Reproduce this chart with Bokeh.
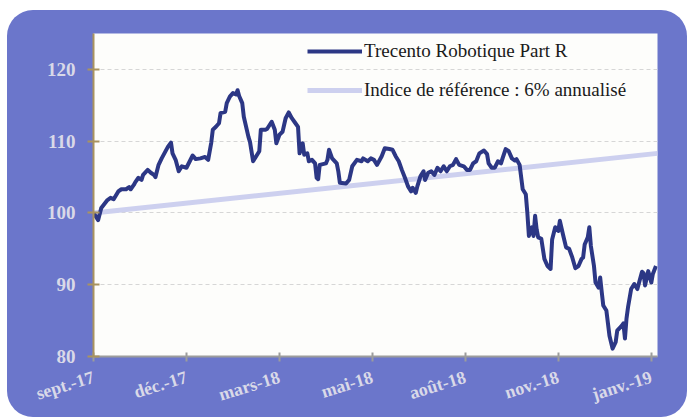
from bokeh.plotting import figure
from bokeh.models import Range1d, FixedTicker, Legend, LegendItem
from bokeh.embed import file_html
from bokeh.resources import INLINE

# trading-day index and fund values (base 100)
days = [0, 3, 5, 9, 11, 13, 16, 18, 21, 23,
        24, 26, 27, 29, 31, 32, 35, 37, 39, 40,
        42, 44, 46, 48, 50, 51, 53, 55, 57, 60,
        64, 66, 69, 72, 74, 76, 77, 79, 81, 82,
        85, 86, 88, 90, 92, 93, 94, 96, 97, 100,
        101, 103, 105, 107, 108, 111, 112, 115, 117, 118,
        120, 122, 124, 126, 128, 130, 132, 133, 135, 136,
        138, 139, 141, 143, 144, 145, 146, 150, 151, 152,
        154, 157, 158, 159, 163, 165, 167, 170, 173, 174,
        177, 179, 181, 183, 186, 188, 191, 193, 195, 197,
        199, 201, 203, 205, 206, 208, 209, 211, 213, 214,
        216, 218, 220, 222, 224, 226, 228, 230, 232, 234,
        236, 239, 241, 243, 245, 247, 249, 252, 254, 255,
        257, 259, 261, 263, 264, 266, 268, 270, 272, 273,
        275, 277, 279, 280, 281, 283, 284, 285, 286, 287,
        289, 291, 293, 295, 296, 298, 300, 301, 303, 305,
        307, 309, 311, 313, 315, 316, 317, 319, 320, 321,
        323, 324, 326, 327, 328, 329, 331, 333, 335, 337,
        338, 341, 342, 343, 344, 345, 347, 349, 351, 354,
        355, 356, 358, 360, 361, 363]

fund = [100.0, 99.0, 100.7, 101.8, 102.1, 101.9, 103.0, 103.3, 103.3, 103.6,
        103.3, 103.9, 104.3, 104.9, 104.6, 105.3, 106.0, 105.6, 105.3, 105.0,
        106.7, 107.6, 108.4, 109.2, 109.8, 108.3, 107.4, 105.8, 106.5, 106.3,
        108.0, 107.5, 107.6, 107.8, 107.4, 109.8, 111.6, 112.0, 112.5, 113.9,
        114.1, 115.3, 116.2, 116.7, 116.5, 117.1, 116.3, 115.3, 113.4, 110.6,
        109.9, 107.2, 107.9, 108.6, 111.6, 111.6, 111.7, 112.7, 111.6, 109.7,
        110.9, 111.3, 113.2, 114.0, 113.2, 112.6, 112.0, 108.3, 109.7, 108.1,
        108.3, 107.2, 107.4, 106.9, 104.9, 104.7, 106.7, 106.9, 107.4, 108.8,
        107.6, 106.9, 105.8, 104.2, 104.1, 104.6, 106.5, 107.4, 107.2, 107.6,
        107.2, 107.6, 107.4, 106.7, 107.9, 109.0, 108.9, 108.8, 107.9, 107.2,
        106.0, 104.9, 103.7, 103.0, 103.5, 102.8, 103.7, 105.1, 105.8, 104.6,
        105.6, 105.8, 105.3, 106.3, 105.8, 106.5, 105.8, 106.5, 106.7, 107.5,
        106.7, 106.5, 106.0, 106.0, 106.9, 107.2, 108.3, 108.7, 108.2, 106.9,
        106.3, 106.3, 107.2, 106.9, 107.6, 108.9, 108.6, 107.6, 107.3, 107.5,
        106.7, 103.3, 102.6, 100.0, 96.8, 98.0, 96.8, 99.6, 97.7, 96.6,
        96.4, 93.6, 92.6, 92.2, 96.3, 98.0, 97.5, 98.9, 97.0, 95.2,
        95.0, 93.8, 92.3, 92.6, 93.6, 93.8, 95.6, 96.6, 98.0, 95.4,
        92.6, 90.3, 89.6, 91.0, 89.0, 87.1, 86.4, 82.9, 81.1, 82.0,
        83.6, 84.3, 84.6, 82.5, 85.3, 86.9, 89.4, 90.1, 89.4, 91.8,
        91.6, 89.9, 91.9, 90.3, 91.5, 92.6]

bench_days = [0, 364]
bench = [100.0, 108.3]

tick_days = [0, 60, 120, 180, 240, 300, 360]
tick_labels = ["sept.-17", "déc.-17", "mars-18", "mai-18", "août-18", "nov.-18", "janv.-19"]
y_ticks = [80, 90, 100, 110, 120]

PANEL = "#6b76cb"
LABEL = "#d9d9e8"
SERIF = "Liberation Serif"

p = figure(width=680, height=407, output_backend="svg", toolbar_location=None,
           x_range=Range1d(0, 364), y_range=Range1d(80, 125),
           min_border_left=86, min_border_right=30, min_border_top=23, min_border_bottom=59)
p.styles = {"background-color": PANEL, "border-radius": "26px",
            "margin-left": "7px", "margin-top": "10px"}
p.border_fill_alpha = 0
p.background_fill_color = "#fdfdfb"
p.outline_line_color = None

p.xgrid.visible = False
p.ygrid.ticker = FixedTicker(ticks=[90, 100, 110, 120])
p.ygrid.grid_line_color = "#d6d6d6"
p.ygrid.grid_line_dash = "4 3"
p.ygrid.grid_line_width = 1

r_bench = p.line(bench_days, bench, line_color="#cdd0ef", line_width=5)
r_fund = p.line(days, fund, line_color="#2c3785", line_width=4, line_join="round")

# y axis
ya = p.yaxis[0]
ya.ticker = FixedTicker(ticks=y_ticks)
ya.axis_line_color = "#a9935f"
ya.axis_line_width = 2
ya.major_tick_line_color = "#a9935f"
ya.major_tick_line_width = 2
ya.major_tick_in = 6
ya.major_tick_out = 6
ya.minor_tick_line_color = None
ya.major_label_standoff = 12
ya.major_label_text_font = SERIF
ya.major_label_text_font_style = "bold"
ya.major_label_text_font_size = "19px"
ya.major_label_text_color = LABEL

# x axis
xa = p.xaxis[0]
xa.ticker = FixedTicker(ticks=tick_days)
xa.major_label_overrides = {d: l for d, l in zip(tick_days, tick_labels)}
xa.axis_line_color = "#9c9c9c"
xa.axis_line_width = 2
xa.major_tick_line_color = "#9c9c9c"
xa.major_tick_line_width = 2
xa.major_tick_in = 4
xa.major_tick_out = 5
xa.minor_tick_line_color = None
xa.major_label_orientation = 0.3
xa.major_label_standoff = 15
xa.major_label_text_font = SERIF
xa.major_label_text_font_style = "bold"
xa.major_label_text_font_size = "18px"
xa.major_label_text_color = LABEL

legend = Legend(items=[LegendItem(label="Trecento Robotique Part R", renderers=[r_fund]),
                       LegendItem(label="Indice de référence : 6% annualisé", renderers=[r_bench])],
                location=(214, 255), orientation="vertical")
legend.background_fill_alpha = 0
legend.border_line_color = None
legend.padding = 0
legend.margin = 0
legend.spacing = 17
legend.glyph_width = 55
legend.glyph_height = 20
legend.label_height = 20
legend.label_standoff = 2
legend.label_text_font = SERIF
legend.label_text_font_size = "19px"
legend.label_text_color = "#1a1a1a"
p.add_layout(legend, "center")

open("out.html", "w").write(file_html(p, INLINE))
